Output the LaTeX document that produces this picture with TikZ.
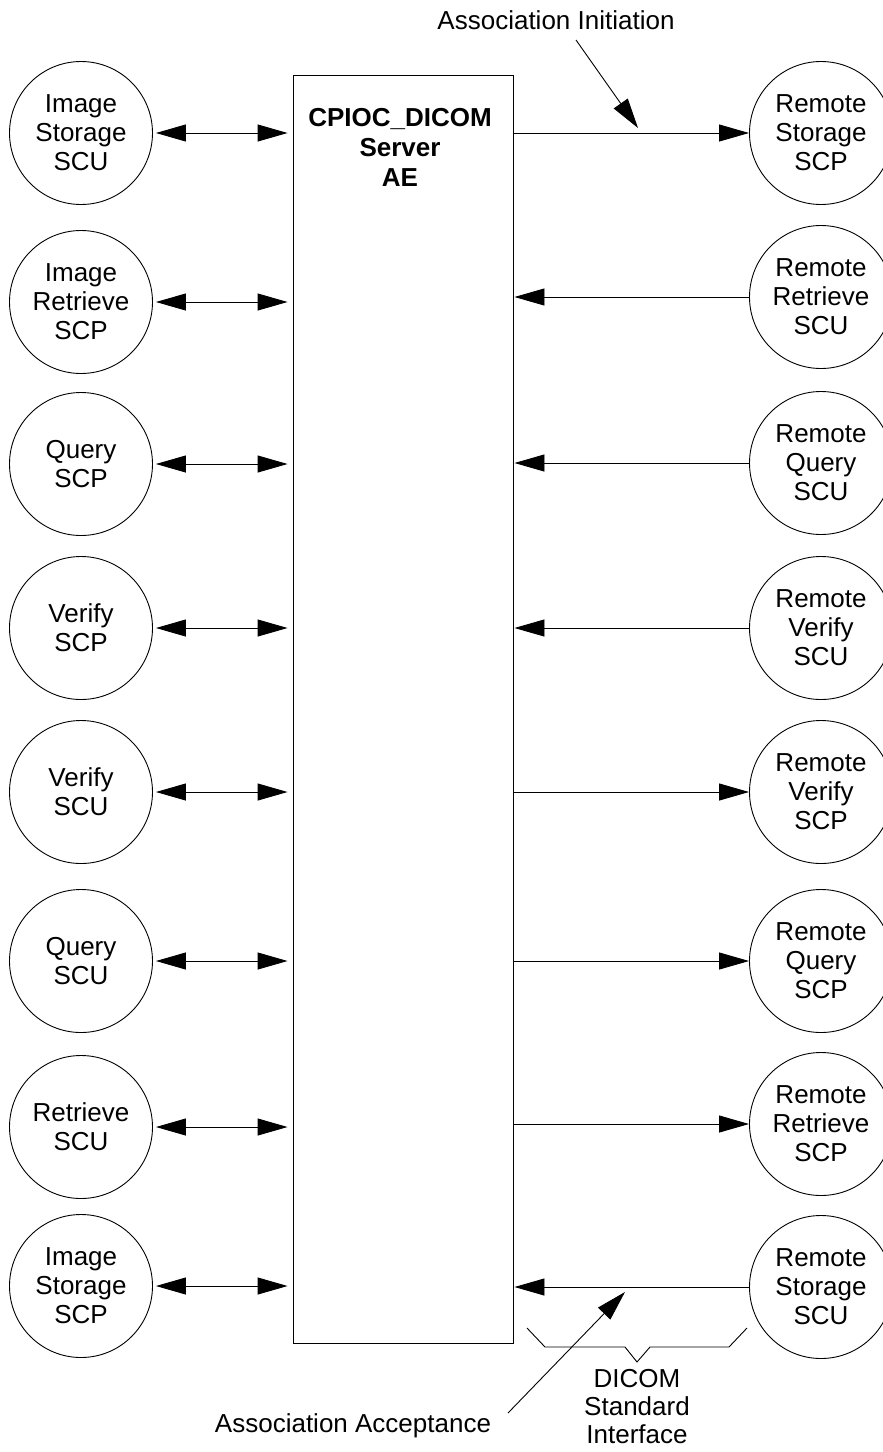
\documentclass[tikz,border=0pt]{standalone}
\usepackage{fontspec}
\setmainfont{Liberation Sans}
\usetikzlibrary{arrows.meta}
\begin{document}
\begin{tikzpicture}[x=1pt,y=-1pt,
  font=\fontsize{26}{29}\selectfont,
  unit/.style={circle, draw, line width=0.9pt, minimum size=143pt, inner sep=0pt, align=center},
  line/.style={line width=0.9pt},
  tip/.style={line, -{Triangle[length=30pt,width=17pt]}},
  dbl/.style={line, {Triangle[length=30pt,width=17pt]}-{Triangle[length=30pt,width=17pt]}, shorten <=3pt, shorten >=5pt},
  lbl/.style={align=center, inner sep=0pt}]
\useasboundingbox (0,0) rectangle (883,1452);
\clip (0,0) rectangle (883,1452);

% central box
\node[draw, line width=0.9pt, minimum width=220pt, minimum height=1268pt, inner sep=0pt] (box) at (403,709) {};
\node[lbl, font=\fontsize{26}{30}\selectfont\bfseries] (title) at (400,147) {CPIOC\_DICOM\\Server\\AE};

% left units
\node[unit] (L1) at (81,133)  {Image\\Storage\\SCU};
\node[unit] (L2) at (81,302)  {Image\\Retrieve\\SCP};
\node[unit] (L3) at (81,464)  {Query\\SCP};
\node[unit] (L4) at (81,628)  {Verify\\SCP};
\node[unit] (L5) at (81,792)  {Verify\\SCU};
\node[unit] (L6) at (81,961)  {Query\\SCU};
\node[unit] (L7) at (81,1127) {Retrieve\\SCU};
\node[unit] (L8) at (81,1286) {Image\\Storage\\SCP};

% right units
\node[unit] (R1) at (821,133)  {Remote\\Storage\\SCP};
\node[unit] (R2) at (821,297)  {Remote\\Retrieve\\SCU};
\node[unit] (R3) at (821,463)  {Remote\\Query\\SCU};
\node[unit] (R4) at (821,628)  {Remote\\Verify\\SCU};
\node[unit] (R5) at (821,792)  {Remote\\Verify\\SCP};
\node[unit] (R6) at (821,961)  {Remote\\Query\\SCP};
\node[unit] (R7) at (821,1124) {Remote\\Retrieve\\SCP};
\node[unit] (R8) at (821,1287) {Remote\\Storage\\SCU};

% left connectors
\foreach \i in {1,...,8}{
  \draw[dbl] (L\i.east) -- (L\i.east -| box.west);
}

% right connectors
\draw[tip] (R1.west -| box.east) -- (R1.west);
\draw[tip, shorten >=1pt] (R2.west) -- (R2.west -| box.east);
\draw[tip, shorten >=1pt] (R3.west) -- (R3.west -| box.east);
\draw[tip, shorten >=1pt] (R4.west) -- (R4.west -| box.east);
\draw[tip] (R5.west -| box.east) -- (R5.west);
\draw[tip] (R6.west -| box.east) -- (R6.west);
\draw[tip] (R7.west -| box.east) -- (R7.west);
\draw[tip, shorten >=1pt] (R8.west) -- (R8.west -| box.east);

% association initiation
\node[lbl] (ai) at (556,20) {Association Initiation};
\coordinate (aistart) at (576,40);
\coordinate (aitip) at (638,128);
\draw[tip] (aistart) -- (aitip);

% association acceptance
\node[lbl] (aa) at (353,1426) {Association Acceptance};
\coordinate (aastart) at (508,1413);
\coordinate (aatip) at (625,1292);
\draw[tip] (aastart) -- (aatip);

% brace
\draw[line] (527,1328) -- (545,1347) -- (625,1347) -- (637,1362) -- (650,1347) -- (729,1347) -- (747,1328);
\node[lbl, font=\fontsize{26}{28}\selectfont] (dsi) at (637,1407) {DICOM\\Standard\\Interface};
\end{tikzpicture}
\end{document}
